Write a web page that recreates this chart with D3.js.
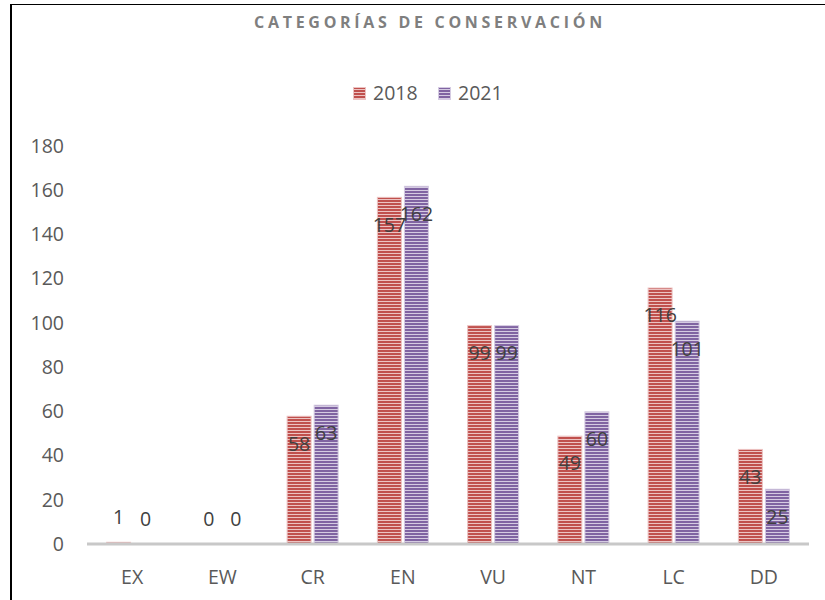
<!DOCTYPE html>
<html>
<head>
<meta charset="utf-8">
<script src="https://cdn.jsdelivr.net/npm/d3@7"></script>
<style>
  body{margin:0;background:#fff;}
  svg text{font-family:"Open Sans","Noto Sans",sans-serif;}
</style>
</head>
<body>
<div id="chart"></div>
<script>
// Conservation categories, 2018 vs 2021
const categories = ['EX','EW','CR','EN','VU','NT','LC','DD'];
const seriesNames = ['2018','2021'];
const values2018 = [1,0,58,157,99,49,116,43];
const values2021 = [0,0,63,162,99,60,101,25];
const yTicks = [0,20,40,60,80,100,120,140,160,180];

(function(){
  const w = 825, h = 600;
  const margin = {top:146, right:16, bottom:56, left:87};
  const width = w - margin.left - margin.right;
  const height = h - margin.top - margin.bottom;

  const colors = {'2018':{dark:'#c0504d', light:'#ecc3c2'}, '2021':{dark:'#8064a2', light:'#d5cbe2'}};

  const svg = d3.select('#chart').append('svg').attr('width',w).attr('height',h);

  // stripe fills
  const defs = svg.append('defs');
  seriesNames.forEach(s=>{
    const p = defs.append('pattern').attr('id','stripe'+s)
      .attr('patternUnits','userSpaceOnUse').attr('width',8).attr('height',3);
    p.append('rect').attr('width',8).attr('height',3).attr('fill',colors[s].dark);
    p.append('rect').attr('y',2).attr('width',8).attr('height',1).attr('fill',colors[s].light);
  });

  // outer frame
  svg.append('rect').attr('x',11).attr('y',4.5).attr('width',840).attr('height',620)
    .attr('fill','none').attr('stroke','#000').attr('stroke-width',1);
  svg.append('line').attr('x1',11).attr('x2',11).attr('y1',4).attr('y2',h)
    .attr('stroke','#000').attr('stroke-width',2);

  const g = svg.append('g').attr('transform',`translate(${margin.left},${margin.top})`);

  const x0 = d3.scaleBand().domain(categories).range([0,width]).paddingInner(0).paddingOuter(0);
  const x1 = d3.scaleBand().domain(seriesNames).range([x0.bandwidth()/2-26, x0.bandwidth()/2+26]).paddingInner(4/52);
  const y = d3.scaleLinear().domain([0,180]).range([height,0]);

  // y axis labels
  const yAxis = g.append('g').call(d3.axisLeft(y).tickValues(yTicks).tickSize(0).tickPadding(23));
  yAxis.select('.domain').remove();
  yAxis.selectAll('text').attr('font-size','19.5px').attr('fill','#595959')
    .attr('font-family','"Open Sans","Noto Sans",sans-serif');

  const rows = categories.map((c,i)=>({cat:c, vals:[{s:'2018',v:values2018[i]},{s:'2021',v:values2021[i]}]}));

  const grp = g.selectAll('.grp').data(rows).enter().append('g')
    .attr('transform',d=>`translate(${x0(d.cat)},0)`);

  grp.selectAll('rect').data(d=>d.vals).enter().append('rect')
    .attr('x',d=>x1(d.s)+0.5)
    .attr('width',x1.bandwidth()-1)
    .attr('y',d=>y(d.v)+0.5)
    .attr('height',d=>Math.max(0,y(0)-y(d.v)-0.5))
    .attr('fill',d=>'url(#stripe'+d.s+')')
    .attr('stroke',d=>colors[d.s].light).attr('stroke-width',1);

  // x axis line
  g.append('line').attr('x1',0).attr('x2',width).attr('y1',y(0)).attr('y2',y(0))
    .attr('stroke','#c8c8c8').attr('stroke-width',3);

  // data labels
  grp.selectAll('.lbl').data(d=>d.vals).enter().append('text')
    .attr('x',d=>x1(d.s)+x1.bandwidth()/2)
    .attr('y',d=>{ const t=y(d.v)+28; return t>y(0)-20 ? y(d.v)-25 : t; })
    .attr('dy','0.35em').attr('text-anchor','middle')
    .attr('font-size','19.5px').attr('fill','#404040')
    .text(d=>d.v);

  // x category labels
  g.selectAll('.cat').data(categories).enter().append('text')
    .attr('x',d=>x0(d)+x0.bandwidth()/2).attr('y',height+33)
    .attr('dy','0.35em').attr('text-anchor','middle')
    .attr('font-size','19.5px').attr('fill','#595959').text(d=>d);

  // title
  svg.append('text').attr('x',430).attr('y',22).attr('dy','0.35em').attr('text-anchor','middle')
    .attr('font-size','16px').attr('font-weight','700').attr('letter-spacing','3.7px')
    .attr('fill','#7f7f7f').text('CATEGORÍAS DE CONSERVACIÓN');

  // legend
  const legendX = [353, 438];
  seriesNames.forEach((s,i)=>{
    const lg = svg.append('g').attr('transform',`translate(${legendX[i]},87)`);
    lg.append('rect').attr('x',0.5).attr('y',0.5).attr('width',12).attr('height',12)
      .attr('fill','url(#stripe'+s+')').attr('stroke',colors[s].light);
    lg.append('text').attr('x',20).attr('y',6.5).attr('dy','0.35em')
      .attr('font-size','19.5px').attr('fill','#595959').text(s);
  });
})();
</script>
</body>
</html>
